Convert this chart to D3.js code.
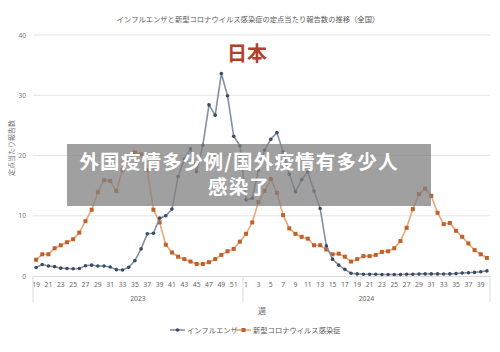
<!DOCTYPE html>
<html lang="ja">
<head>
<meta charset="utf-8">
<title>インフルエンザと新型コロナ</title>
<script src="https://d3js.org/d3.v7.min.js"></script>
<style>
* { margin: 0; padding: 0; }
body { background: #fff; font-family: 'Noto Sans CJK JP', 'Noto Sans', sans-serif; }
</style>
</head>
<body>
<script>
// weeks: 2023 w19-52, 2024 w1-40
const weeks2023 = d3.range(19, 53)
const weeks2024 = d3.range(1, 41)
const years = ["2023", "2024"]
const yTicks = [0, 10, 20, 30, 40]

const seriesNames = ["インフルエンザ", "新型コロナウイルス感染症"]

const influenza = [1.4, 1.9, 1.65, 1.55, 1.3, 1.25, 1.2, 1.25, 1.7, 1.8,
  1.65, 1.65, 1.5, 1.05, 1.0, 1.45, 2.55, 4.5, 7.0, 7.1,
  9.6, 10.0, 11.1, 16.5, 19.4, 21.1, 17.3, 21.7, 28.4, 26.7,
  33.6, 29.9, 23.2, 21.6,
  12.6, 12.9, 17.6, 20.9, 22.7, 23.8, 20.6, 16.9, 14.0, 16.0,
  17.3, 14.1, 11.2, 5.0, 2.8, 1.8, 1.1, 0.45, 0.35, 0.3,
  0.3, 0.28, 0.25, 0.25, 0.25, 0.25, 0.28, 0.3, 0.33, 0.35,
  0.35, 0.35, 0.33, 0.35, 0.4, 0.5, 0.55, 0.6, 0.7, 0.85]

const covid = [2.7, 3.6, 3.6, 4.6, 5.1, 5.6, 6.1, 7.2, 9.1, 11.0,
  13.9, 15.9, 15.8, 14.1, 17.6, 19.0, 20.5, 20.2, 17.6, 11.0,
  8.9, 5.2, 3.9, 3.2, 2.8, 2.4, 2.0, 2.0, 2.3, 2.8,
  3.5, 4.1, 4.5, 5.7,
  7.0, 8.9, 12.3, 14.1, 16.1, 13.8, 10.1, 7.9, 7.0, 6.5,
  6.2, 5.1, 5.1, 4.4, 3.6, 3.7, 3.2, 2.4, 2.8, 3.3,
  3.3, 3.5, 4.0, 4.1, 4.6, 5.8, 8.0, 11.1, 13.6, 14.5,
  13.3, 10.5, 8.6, 8.8, 7.5, 6.5, 5.4, 4.3, 3.6, 3.0]

const captionLines = ["外国疫情多少例/国外疫情有多少人", "感染了"]

let w = 500
let h = 352
let plotLeft = 33, plotRight = 490, plotTop = 35, plotBottom = 276

const weekLabels = weeks2023.concat(weeks2024)
const idx = d3.range(weekLabels.length)

let x = d3.scaleBand()
  .domain(idx)
  .range([plotLeft, plotRight])

let y = d3.scaleLinear()
  .domain([0, 40])
  .range([plotBottom, plotTop])

let cx = i => x(i) + x.bandwidth() / 2

let svg = d3.select("body").append("svg")
  .attr("width", w)
  .attr("height", h)

// title
svg.append("text")
  .text("インフルエンザと新型コロナウイルス感染症の定点当たり報告数の推移（全国）")
  .attr("x", 248).attr("y", 22)
  .attr("text-anchor", "middle")
  .attr("font-size", 7.3)
  .attr("fill", "#595959")

// gridlines
svg.append("g")
  .selectAll("line")
  .data(yTicks.filter(d => d > 0))
  .join("line")
  .attr("x1", plotLeft).attr("x2", plotRight)
  .attr("y1", d => y(d)).attr("y2", d => y(d))
  .attr("stroke", "#e4e4e4")
  .attr("stroke-width", 1)

// y axis labels
svg.append("g")
  .attr("transform", "translate(" + (plotLeft - 7) + ",0)")
  .call(d3.axisLeft(y).tickValues(yTicks).tickSize(0).tickPadding(0))
  .call(g => g.select(".domain").remove())
  .call(g => g.selectAll("text")
    .attr("font-size", 6.5)
    .attr("font-family", "'Noto Sans', sans-serif")
    .attr("fill", "#777"))

// y title
svg.append("text")
  .text("定点当たり報告数")
  .attr("transform", "translate(14,148) rotate(-90)")
  .attr("text-anchor", "middle")
  .attr("font-size", 7)
  .attr("fill", "#777")

// "日本"
svg.append("text")
  .text("日本")
  .attr("x", 247).attr("y", 61)
  .attr("text-anchor", "middle")
  .attr("font-size", 20)
  .attr("font-weight", "bold")
  .attr("fill", "#b3402b")

// x axis
svg.append("g")
  .attr("transform", "translate(0," + plotBottom + ")")
  .call(d3.axisBottom(x)
    .tickValues(idx.filter(i => i % 2 == 0))
    .tickFormat(i => weekLabels[i])
    .tickSize(0)
    .tickPadding(6))
  .call(g => g.select(".domain").attr("stroke", "#d9d9d9"))
  .call(g => g.selectAll("text")
    .attr("font-size", 6.8)
    .attr("font-family", "'Noto Sans', sans-serif")
    .attr("fill", "#666"))

// year group separators
let sepIdx = [0, weeks2023.length, idx.length]
svg.append("g")
  .selectAll("line")
  .data(sepIdx)
  .join("line")
  .attr("x1", d => d < idx.length ? x(d) : x(d - 1) + x.bandwidth())
  .attr("x2", d => d < idx.length ? x(d) : x(d - 1) + x.bandwidth())
  .attr("y1", plotBottom).attr("y2", plotBottom + 26)
  .attr("stroke", "#d9d9d9")

svg.append("g")
  .selectAll("text")
  .data(years)
  .join("text")
  .text(d => d)
  .attr("x", (d, i) => i == 0
    ? (x(0) + x(weeks2023.length)) / 2
    : (x(weeks2023.length) + plotRight) / 2)
  .attr("y", 301)
  .attr("text-anchor", "middle")
  .attr("font-size", 6.8)
  .attr("font-family", "'Noto Sans', sans-serif")
  .attr("fill", "#666")

svg.append("text")
  .text("週")
  .attr("x", 262).attr("y", 314)
  .attr("text-anchor", "middle")
  .attr("font-size", 8)
  .attr("fill", "#666")

// lines
let line = d3.line()
  .x((d, i) => cx(i))
  .y(d => y(d))

svg.append("path")
  .datum(covid)
  .attr("d", line)
  .attr("fill", "none")
  .attr("stroke", "#eba576")
  .attr("stroke-width", 1.6)

svg.append("g")
  .selectAll("rect")
  .data(covid)
  .join("rect")
  .attr("x", (d, i) => cx(i) - 2)
  .attr("y", d => y(d) - 2)
  .attr("width", 4).attr("height", 4)
  .attr("fill", "#c0602a")

svg.append("path")
  .datum(influenza)
  .attr("d", line)
  .attr("fill", "none")
  .attr("stroke", "#8291a7")
  .attr("stroke-width", 1.6)

svg.append("g")
  .selectAll("circle")
  .data(influenza)
  .join("circle")
  .attr("cx", (d, i) => cx(i))
  .attr("cy", d => y(d))
  .attr("r", 1.8)
  .attr("fill", "#3d4b60")

// legend
let legend = svg.append("g").attr("transform", "translate(0,330)")
legend.append("line")
  .attr("x1", 170).attr("x2", 185).attr("y1", 0).attr("y2", 0)
  .attr("stroke", "#8291a7").attr("stroke-width", 1.6)
legend.append("circle")
  .attr("cx", 177.5).attr("cy", 0).attr("r", 1.8).attr("fill", "#3d4b60")
legend.append("text")
  .text(seriesNames[0])
  .attr("x", 187).attr("y", 2.5)
  .attr("font-size", 7.3).attr("fill", "#595959")
legend.append("line")
  .attr("x1", 236).attr("x2", 251).attr("y1", 0).attr("y2", 0)
  .attr("stroke", "#eba576").attr("stroke-width", 1.6)
legend.append("rect")
  .attr("x", 241.5).attr("y", -2).attr("width", 4).attr("height", 4)
  .attr("fill", "#c0602a")
legend.append("text")
  .text(seriesNames[1])
  .attr("x", 253).attr("y", 2.5)
  .attr("font-size", 7.3).attr("fill", "#595959")

// overlay box with caption
svg.append("rect")
  .attr("x", 67).attr("y", 144)
  .attr("width", 364).attr("height", 62)
  .attr("fill", "rgb(128,128,128)")
  .attr("fill-opacity", 0.75)

svg.append("g")
  .selectAll("text")
  .data(captionLines)
  .join("text")
  .text(d => d)
  .attr("x", 239)
  .attr("y", (d, i) => 169 + i * 25)
  .attr("text-anchor", "middle")
  .attr("font-family", "'Noto Sans CJK SC', sans-serif")
  .attr("font-weight", "bold")
  .attr("font-size", 19.5)
  .attr("letter-spacing", 1.2)
  .attr("fill", "#fff")
</script>
</body>
</html>
